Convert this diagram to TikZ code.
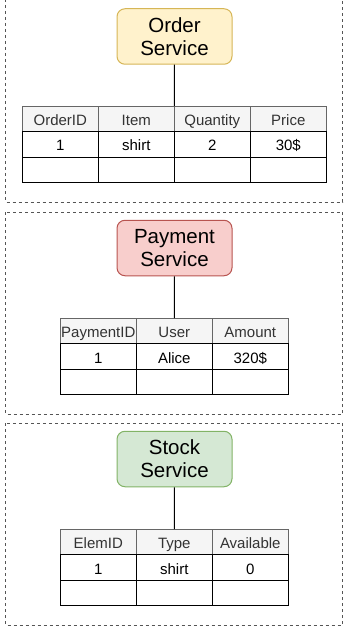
\documentclass[tikz,border=0pt]{standalone}
\usepackage{fontspec}
\setmainfont{Liberation Sans}
\usetikzlibrary{positioning}

\definecolor{orderfill}{HTML}{FFF2CC}
\definecolor{orderline}{HTML}{D6B656}
\definecolor{payfill}{HTML}{F8CECC}
\definecolor{payline}{HTML}{B85450}
\definecolor{stockfill}{HTML}{D5E8D4}
\definecolor{stockline}{HTML}{82B366}
\definecolor{headfill}{HTML}{F5F5F5}
\definecolor{headline}{HTML}{666666}
\definecolor{headtext}{HTML}{333333}
\definecolor{framecol}{HTML}{555555}

\begin{document}
\begin{tikzpicture}[
    x=1pt, y=-1pt,
    node distance=0pt,
    service/.style={draw, line width=1pt, rounded corners=8pt, align=center, inner sep=0pt,
        minimum width=115pt, minimum height=55.5pt, font=\fontsize{20.5}{23}\selectfont},
    ordersvc/.style={service, fill=orderfill, draw=orderline},
    paysvc/.style={service, fill=payfill, draw=payline},
    stocksvc/.style={service, fill=stockfill, draw=stockline},
    cell/.style={draw=black, line width=0.9pt, inner sep=0pt, outer sep=0pt,
        minimum width=76pt, minimum height=25.5pt, text height=13.5pt, text depth=0pt,
        font=\fontsize{15}{17}\selectfont},
    head/.style={cell, fill=headfill, draw=headline, text=headtext},
    frame/.style={draw=framecol, dashed, line width=0.8pt}
]
    \useasboundingbox (0,0) rectangle (344,631);

    % Draw frames
    \draw[frame] (5.5,-1) rectangle (342.5,202);
    \draw[frame] (5.5,212) rectangle (342.5,414);
    \draw[frame] (5.5,423) rectangle (342.5,625);

    % Order service
    \node[ordersvc] (order) at (174.5,36.5) {Order\\Service};
    \node[head, anchor=north west] (o11) at (22.3,106) {OrderID};
    \node[head, right=of o11] (o12) {Item};
    \node[head, right=of o12] (o13) {Quantity};
    \node[head, right=of o13] (o14) {Price};
    \node[cell, below=of o11] (o21) {1};
    \node[cell, right=of o21] (o22) {shirt};
    \node[cell, right=of o22] (o23) {2};
    \node[cell, right=of o23] (o24) {30\$};
    \node[cell, below=of o21] (o31) {};
    \node[cell, right=of o31] (o32) {};
    \node[cell, right=of o32] (o33) {};
    \node[cell, right=of o33] (o34) {};
    \draw[line width=0.9pt] (order) -- (o12.north east);

    % Payment service
    \node[paysvc] (payment) at (174.5,248) {Payment\\Service};
    \node[head, anchor=north west] (p11) at (60.3,318) {PaymentID};
    \node[head, right=of p11] (p12) {User};
    \node[head, right=of p12] (p13) {Amount};
    \node[cell, below=of p11] (p21) {1};
    \node[cell, right=of p21] (p22) {Alice};
    \node[cell, right=of p22] (p23) {320\$};
    \node[cell, below=of p21] (p31) {};
    \node[cell, right=of p31] (p32) {};
    \node[cell, right=of p32] (p33) {};
    \draw[line width=0.9pt] (payment) -- (p12);

    % Stock service
    \node[stocksvc] (stock) at (174.5,459) {Stock\\Service};
    \node[head, anchor=north west] (s11) at (60.3,529) {ElemID};
    \node[head, right=of s11] (s12) {Type};
    \node[head, right=of s12] (s13) {Available};
    \node[cell, below=of s11] (s21) {1};
    \node[cell, right=of s21] (s22) {shirt};
    \node[cell, right=of s22] (s23) {0};
    \node[cell, below=of s21] (s31) {};
    \node[cell, right=of s31] (s32) {};
    \node[cell, right=of s32] (s33) {};
    \draw[line width=0.9pt] (stock) -- (s12);

\end{tikzpicture}
\end{document}
